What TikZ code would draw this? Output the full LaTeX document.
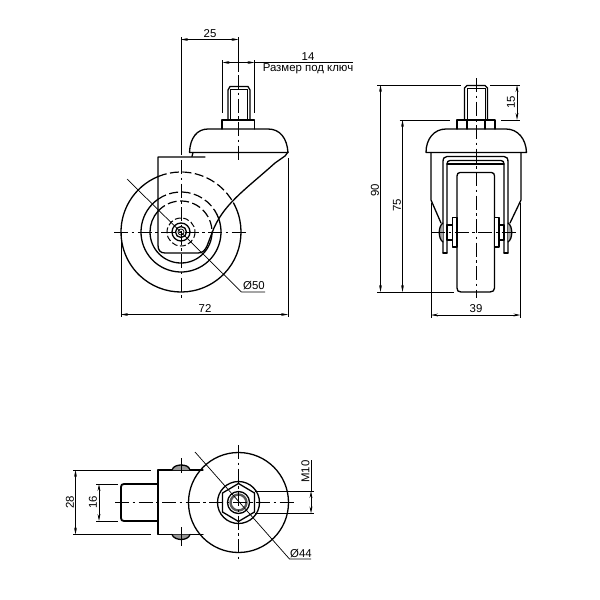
\documentclass[tikz,border=0pt]{standalone}
\usepackage{fontspec}
\setmainfont{Liberation Sans}
\usetikzlibrary{arrows.meta}
\tikzset{
  main/.style={line width=1.3pt,line cap=round,line join=round},
  heavy/.style={line width=1.8pt,line join=round},
  thin/.style={line width=0.7pt},
  center/.style={line width=0.75pt,dash pattern=on 14pt off 3.5pt on 2.5pt off 3.5pt},
  hidden/.style={line width=1.2pt,dash pattern=on 9pt off 3.5pt},
  dim/.style={line width=0.7pt,{Stealth[length=7pt,width=2.8pt]}-{Stealth[length=7pt,width=2.8pt]}},
  lab/.style={font=\fontsize{11.4}{12}\selectfont,inner sep=0pt},
}
\begin{document}
\begin{tikzpicture}[x=1pt,y=-1pt]
\useasboundingbox (0,0) rectangle (600,600);
\fill[white] (0,0) rectangle (600,600);

% ---- side view -------------------------------------------------
\coordinate (w) at (181,232);
\draw[main] (w) ++(-29:60) arc (-29:247.5:60);
\draw[hidden] (w) ++(-112.5:60) arc (-112.5:-29:60);
\draw[main] (w) ++(-32:40) arc (-32:235:40);
\draw[hidden] (w) ++(-125:40) arc (-125:-32:40);
\draw[main] (w) ++(0:31) arc (0:222:31);
\draw[hidden] (w) ++(-138:31) arc (-138:0:31);
\draw[line width=1pt,dash pattern=on 6pt off 2.5pt] (w) circle (14);
\draw[main] (w) circle (9);
\draw[main] (w) circle (5.5);
\draw[thin] (w) circle (3);
% fork
\draw[main] (205,157) -- (158,157) -- (158,245) .. controls (158,250) and (160,253) .. (165,253)
  -- (198,253) .. controls (203,253) and (205,250) .. (207,246) -- (212,233)
  .. controls (222,205) and (245,190) .. (275,163) -- (285,156) -- (288,152);
\draw[main] (192,156.5) -- (193,152.5);
% cap
\draw[main] (189.5,152.5) -- (288,152.5)
  .. controls (287,138) and (280,129) .. (268,129) -- (208,129)
  .. controls (197,129) and (190,138) .. (189.5,152.5);
\draw[main] (222,129) -- (222,120) -- (254.5,120) -- (254.5,129);
\draw[main] (228,120) -- (228,90) -- (230,86.5) -- (248,86.5) -- (250,90) -- (250,120);
\draw[thin] (230.5,120) -- (230.5,89) -- (247.5,89) -- (247.5,120);
% centre lines
\draw[center] (238.5,75) -- (238.5,160);
\draw[center] (114,232) -- (248,232);
\draw[center] (181,160) -- (181,298);
% dimensions
\coordinate (d25a) at (181,39.5); \coordinate (d25b) at (238.5,39.5);
\draw[thin] (181,37) -- (181,155);
\draw[thin] (238.5,37) -- (238.5,72);
\draw[dim] (d25a) -- (d25b);
\node[lab] (l25) at (210,33.5) {25};
\coordinate (d14a) at (222.5,62.5); \coordinate (d14b) at (254.5,62.5);
\draw[thin] (222.5,60) -- (222.5,113);
\draw[thin] (254.5,60) -- (254.5,113);
\draw[dim] (d14a) -- (d14b);
\draw[thin] (d14b) -- (353,62.5);
\node[lab] (l14) at (308,56.5) {14};
\node[lab] (lkey) at (308,68.5) {Размер под ключ};
\draw[thin] (121,232) -- (121,317);
\draw[thin] (288,158) -- (288,317);
\draw[dim] (121,314.5) -- (288,314.5);
\node[lab] (l72) at (205,308.5) {72};
\draw[thin] (127,179) -- (241.5,292) -- (265,292);
\node[lab] (l50) at (254,286) {Ø50};

% ---- front view ------------------------------------------------
\draw[main] (464.5,120) -- (464.5,88) -- (467,85.5) -- (485,85.5) -- (487.5,88) -- (487.5,120);
\draw[thin] (467,120) -- (467,88.5) -- (485,88.5) -- (485,120);
\draw[main] (457,129) -- (457,120) -- (495,120) -- (495,129);
\draw[main] (467,120) -- (467,129);
\draw[main] (485,120) -- (485,129);
\draw[main] (426,152.5) -- (526.5,152.5) .. controls (526,139) and (518,129) .. (506,129)
  -- (446,129) .. controls (434,129) and (426,139) .. (426,152.5);
% outer fork
\draw[main] (431,152.5) -- (431,200) -- (441,223);
\draw[main] (521,152.5) -- (521,200) -- (510,223);
% inner U
\draw[main] (443,253) -- (443,162) .. controls (443,158.5) and (444,156.5) .. (447,156.5) -- (504,156.5)
  .. controls (507,156.5) and (508,158.5) .. (508,162) -- (508,253);
\draw[main] (447,253) -- (447,164) .. controls (447,162) and (448,160.5) .. (450,160.5) -- (501,160.5)
  .. controls (503,160.5) and (504,162) .. (504,164) -- (504,253);
\draw[main] (443,253) -- (447,253);
\draw[main] (504,253) -- (508,253);
\draw[main] (447,164) -- (504,164);
% wheel
\draw[main] (460,172.5) -- (491.5,172.5) .. controls (493.5,172.5) and (494.5,174) .. (494.5,176)
  -- (494.5,288) .. controls (494.5,290.5) and (493,292) .. (490,292) -- (461,292)
  .. controls (458,292) and (457,290.5) .. (457,288) -- (457,176) .. controls (457,174) and (458,172.5) .. (460,172.5);
% washers and axle
\draw[main,fill=white] (452.5,217.5) rectangle (457,247);
\draw[main,fill=white] (494.5,217.5) rectangle (499,247);
\draw[main,fill=white] (447,225) rectangle (452.5,240);
\draw[main,fill=white] (499,225) rectangle (504,240);
\draw[main,fill=black!35] (443,223) .. controls (438,226) and (438,239) .. (443,242);
\draw[main,fill=black!35] (508,223) .. controls (513,226) and (513,239) .. (508,242);
% centre lines
\draw[center] (476,78) -- (476,298);
\draw[center] (431,232.5) -- (516,232.5);
% dimensions
\draw[thin] (377,85) -- (460.5,85);
\draw[thin] (377,292) -- (454,292);
\draw[dim] (380.5,85) -- (380.5,292);
\node[lab,rotate=90] (l90) at (375,190) {90};
\draw[thin] (399.5,120) -- (450,120);
\draw[dim] (402.5,120) -- (402.5,292);
\node[lab,rotate=90] (l75) at (397,205) {75};
\draw[thin] (490,85) -- (520,85);
\draw[thin] (501,120) -- (520,120);
\draw[dim] (517,85) -- (517,120);
\node[lab,rotate=90] (l15) at (511,102) {15};
\draw[thin] (431,203) -- (431,318);
\draw[thin] (520.5,203) -- (520.5,318);
\draw[dim] (431,315) -- (520.5,315);
\node[lab] (l39) at (476,308.5) {39};

% ---- top view --------------------------------------------------
\coordinate (t) at (238.5,502.5);
\draw[main] (t) circle (50);
\draw[main] (t) circle (21);
\draw[main] (254.5,493) -- (238.5,483.5) -- (222.5,493) -- (222.5,512) -- (238.5,521.5) -- (254.5,512) -- cycle;
\draw[main] (t) circle (11);
\draw[line width=2.4pt,black!65] (t) circle (8);
% body
\draw[main] (203,470) -- (158,470) -- (158,534.5) -- (203,534.5);
\draw[heavy] (158,484) -- (124,484) .. controls (122,484) and (121,485) .. (121,487)
  -- (121,518) .. controls (121,520) and (122,521) .. (124,521) -- (158,521);
% bolt heads
\draw[main,fill=black!40] (172,470) .. controls (173,466) and (178,465) .. (181,465) .. controls (185,465) and (189,466) .. (190,470);
\draw[main,fill=black!40] (172,534.5) .. controls (173,538) and (178,539.5) .. (181,539.5) .. controls (185,539.5) and (189,538) .. (190,534.5);
\draw[thin] (181,458) -- (181,473);
\draw[thin] (181,527) -- (181,546);
% centre lines
\draw[center] (115,502.5) -- (295,502.5);
\draw[center] (238.5,445) -- (238.5,560);
% dimensions
\draw[thin] (73,470) -- (151,470);
\draw[thin] (73,534.5) -- (151,534.5);
\draw[dim] (75.5,470) -- (75.5,534.5);
\node[lab,rotate=90] (l28) at (70,502.5) {28};
\draw[thin] (96,484) -- (118,484);
\draw[thin] (96,521) -- (118,521);
\draw[dim] (99,484) -- (99,521);
\node[lab,rotate=90] (l16) at (93,502.5) {16};
\draw[thin] (254.5,491) -- (314,491);
\draw[thin] (254.5,513.5) -- (314,513.5);
\draw[dim] (311,491) -- (311,513.5);
\draw[thin] (311,460) -- (311,491);
\node[lab,rotate=90] (lm) at (305.5,471.5) {M10};
\draw[thin] (195,452) -- (289.5,559) -- (311,559);
\node[lab] (l44) at (301,553.5) {Ø44};
\end{tikzpicture}
\end{document}
